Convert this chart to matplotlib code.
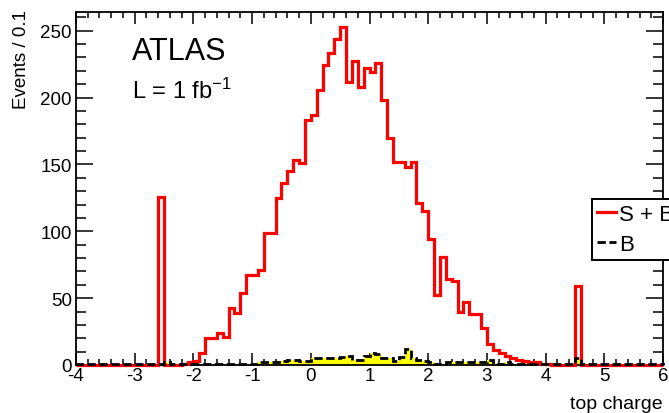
import numpy as np
import matplotlib
matplotlib.use("Agg")
import matplotlib.pyplot as plt
from matplotlib.ticker import MultipleLocator

plt.rcParams['font.family'] = ['Liberation Sans', 'DejaVu Sans']
plt.rcParams['mathtext.fontset'] = 'custom'
plt.rcParams['mathtext.rm'] = 'Liberation Sans'
plt.rcParams['mathtext.it'] = 'Liberation Sans:italic'
plt.rcParams['axes.unicode_minus'] = False

# ---- data (Events / 0.1, bins from -4 to 6) ----
bin_lo, bin_hi, bin_w = -4.0, 6.0, 0.1
sig_plus_bkg = [
    0, 0, 0, 0, 0, 0, 0, 0, 0, 0,          # -4.0 .. -3.1
    0, 0, 0, 0, 126, 0, 0, 0, 1, 2,        # -3.0 .. -2.1
    3, 9, 20, 20, 24, 21, 43, 39, 54, 67,  # -2.0 .. -1.1
    67, 71, 99, 99, 125, 136, 145, 153, 151, 183,   # -1.0 .. -0.1
    187, 206, 224, 233, 244, 253, 212, 227, 208, 222,  # 0.0 .. 0.9
    219, 226, 198, 170, 152, 152, 148, 152, 121, 115,  # 1.0 .. 1.9
    94, 52, 81, 64, 63, 40, 47, 38, 38, 28,            # 2.0 .. 2.9
    16, 11, 9, 7, 5, 4, 3, 2, 2, 1,                    # 3.0 .. 3.9
    1, 0, 0, 0, 0, 59, 0, 0, 0, 0,                     # 4.0 .. 4.9
    0, 0, 0, 0, 0, 0, 0, 0, 0, 0,                      # 5.0 .. 5.9
]
bkg = [
    0.5, 0.5, 0.5, 0.5, 0.5, 0.5, 0.5, 0.5, 0.5, 0.5,
    0.5, 0.5, 0.5, 0.5, 1, 2, 1, 1, 1, 1,
    1, 1, 1, 1, 1, 1, 1, 1, 1, 1,
    1, 2, 2, 2.5, 2.5, 3, 4, 4, 3, 3,
    5.5, 5, 5, 5, 5, 6, 7, 4, 4, 6.5,
    9, 8, 5, 5, 3, 6, 12, 5, 4, 3,
    2, 1, 1, 2.5, 2.5, 2.5, 2.5, 2.5, 2.5, 2,
    4, 1, 1, 2, 1, 0.5, 0.5, 0.5, 0.5, 0.5,
    0.5, 0.5, 0.5, 0.5, 0.5, 5, 0.5, 0.5, 0.5, 0.5,
    0.5, 0.5, 0.5, 0.5, 0.5, 0.5, 0.5, 0.5, 0.5, 0.5,
]
x_ticks = [-4, -3, -2, -1, 0, 1, 2, 3, 4, 5, 6]
y_ticks = [0, 50, 100, 150, 200, 250]

edges = np.linspace(bin_lo, bin_hi, len(sig_plus_bkg) + 1)

W, H = 669, 414
fig = plt.figure(figsize=(W / 100, H / 100), dpi=100)
ax = fig.add_axes([76 / W, 1 - 366 / H, (663 - 76) / W, (366 - 13) / H])

ax.stairs(bkg, edges, fill=True, color='#ffff00', zorder=2)
ax.stairs(sig_plus_bkg, edges, color='#ff0000', linewidth=2.3, zorder=3,
          label='S + B', clip_on=False)
ax.stairs(bkg, edges, color='black', linewidth=2.0, linestyle=(0, (3, 1.3)),
          zorder=4, label='B', clip_on=False)

ax.set_xlim(bin_lo, bin_hi)
ax.set_ylim(0, 264)
ax.set_xticks(x_ticks)
ax.set_yticks(y_ticks)
ax.xaxis.set_minor_locator(MultipleLocator(0.2))
ax.yaxis.set_minor_locator(MultipleLocator(10))
ax.tick_params(which='both', direction='in', top=True, right=True,
               labelsize=13.5, width=1.1, colors='black')
ax.tick_params(axis='x', which='major', length=8.6, pad=1.5)
ax.tick_params(axis='x', which='minor', length=4.3)
ax.tick_params(axis='y', which='major', length=12.5, pad=3)
ax.tick_params(axis='y', which='minor', length=7)
for s in ax.spines.values():
    s.set_linewidth(1.3)

fig.text(663 / W, 1 - 413 / H, 'top charge', ha='right', va='bottom', fontsize=14)
fig.text(22 / W, 1 - 10 / H, 'Events / 0.1', rotation=90, ha='center', va='top',
         fontsize=13.5)

fig.text(132 / W, 1 - 60 / H, 'ATLAS', ha='left', va='baseline', fontsize=22)
fig.text(132 / W, 1 - 99 / H, r'L = 1 fb$^{\mathregular{-1}}$', ha='left',
         va='baseline', fontsize=17)

leg = fig.legend(loc='upper left', bbox_to_anchor=(592 / W, 1 - 200 / H),
                 bbox_transform=fig.transFigure, borderaxespad=0,
                 fontsize=16, frameon=True, fancybox=False, framealpha=1,
                 edgecolor='black', handlelength=0.85, handletextpad=0.15,
                 labelspacing=0.4, borderpad=0.22)
leg.get_frame().set_linewidth(1.4)

fig.savefig('out.png', dpi=100)
